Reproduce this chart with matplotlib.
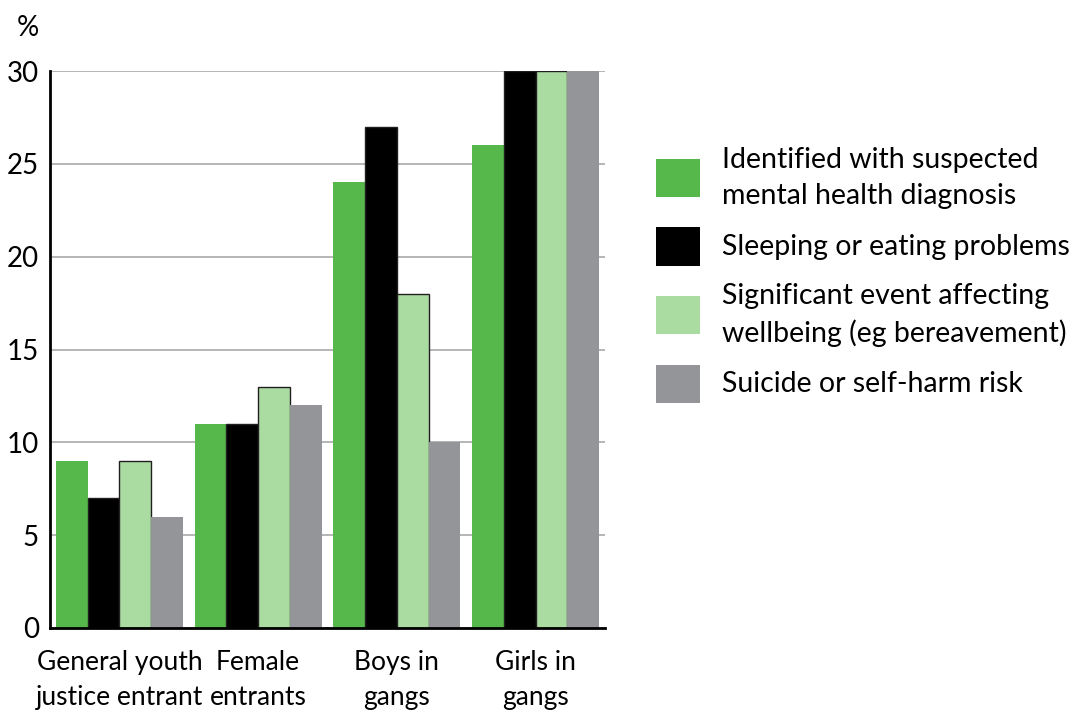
import matplotlib.pyplot as plt
from matplotlib.patches import Rectangle
import numpy as np

plt.rcParams['font.family'] = ['Lato', 'DejaVu Sans']

groups = ['General youth\njustice entrant', 'Female\nentrants', 'Boys in\ngangs', 'Girls in\ngangs']
series = [
    'Identified with suspected\nmental health diagnosis',
    'Sleeping or eating problems',
    'Significant event affecting\nwellbeing (eg bereavement)',
    'Suicide or self-harm risk',
]
mental_health = [9, 11, 24, 26]
sleeping_eating = [7, 11, 27, 30]
significant_event = [9, 13, 18, 30]
self_harm = [6, 12, 10, 30]
values = [mental_health, sleeping_eating, significant_event, self_harm]

colors = ['#56b84a', '#000000', '#aadba1', '#939598']
edges = ['none', '#231f20', '#231f20', 'none']
yticks = [0, 5, 10, 15, 20, 25, 30]

fig = plt.figure(figsize=(10.74, 7.14), dpi=100)
ax = fig.add_axes([50 / 1074, 86 / 714, 555 / 1074, 557 / 714])

x = np.arange(len(groups))
w = 0.229
for i, vals in enumerate(values):
    ax.bar(x + (i - 1.5) * w, vals, w, color=colors[i], edgecolor=edges[i],
           linewidth=1.0, zorder=3)

ax.set_xlim(-0.5, 3.5)
ax.set_ylim(0, 30)
ax.set_yticks(yticks)
ax.set_xticks(x)
ax.set_xticklabels(groups, fontsize=19, linespacing=1.5)
ax.tick_params(axis='y', length=0, labelsize=20, pad=8)
ax.tick_params(axis='x', length=0, pad=16)
ax.yaxis.grid(True, color='#a7a9ac', linewidth=1.2, zorder=0)
ax.spines['top'].set_visible(False)
ax.spines['right'].set_visible(False)
ax.spines['left'].set_linewidth(2)
ax.spines['bottom'].set_linewidth(2)
ax.spines['left'].set_zorder(4)
ax.spines['bottom'].set_zorder(4)
ax.set_axisbelow(True)

fig.text(28 / 1074, 1 - 28 / 714, '%', fontsize=20, ha='center', va='center')

# legend drawn by hand so rows are evenly spaced
for i, label in enumerate(series):
    yc = 1 - (178 + 68.5 * i) / 714
    fig.patches.append(Rectangle((656 / 1074, yc - 19 / 714), 44 / 1074, 38 / 714,
                                 transform=fig.transFigure, facecolor=colors[i],
                                 edgecolor='none'))
    fig.text(722 / 1074, yc, label, fontsize=20.5, va='center', ha='left',
             linespacing=1.45)

fig.savefig('out.png', dpi=100)
